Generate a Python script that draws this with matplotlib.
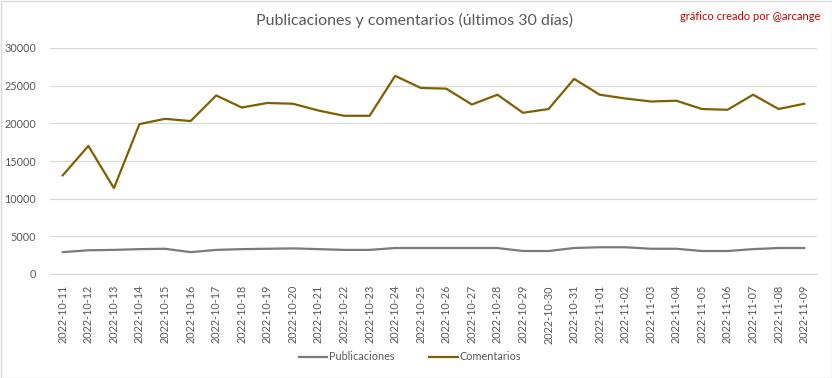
import matplotlib
matplotlib.use("Agg")
import matplotlib.pyplot as plt
from matplotlib.patches import Rectangle

dates = ["2022-10-11", "2022-10-12", "2022-10-13", "2022-10-14", "2022-10-15", "2022-10-16",
         "2022-10-17", "2022-10-18", "2022-10-19", "2022-10-20", "2022-10-21", "2022-10-22",
         "2022-10-23", "2022-10-24", "2022-10-25", "2022-10-26", "2022-10-27", "2022-10-28",
         "2022-10-29", "2022-10-30", "2022-10-31", "2022-11-01", "2022-11-02", "2022-11-03",
         "2022-11-04", "2022-11-05", "2022-11-06", "2022-11-07", "2022-11-08", "2022-11-09"]

publicaciones = [2900, 3150, 3200, 3300, 3350, 2900, 3200, 3300, 3350, 3400, 3300, 3200,
                 3200, 3450, 3450, 3450, 3450, 3450, 3050, 3050, 3450, 3550, 3550, 3350,
                 3350, 3050, 3050, 3300, 3450, 3450]

comentarios = [13100, 17000, 11400, 19900, 20600, 20300, 23700, 22100, 22700, 22600, 21700, 21000,
               21000, 26300, 24700, 24600, 22500, 23800, 21400, 21900, 25900, 23800, 23300, 22900,
               23000, 21900, 21800, 23800, 21900, 22600]

yticks = [0, 5000, 10000, 15000, 20000, 25000, 30000]

plt.rcParams['font.family'] = ['Lato', 'DejaVu Sans']
txt = '#595959'

fig = plt.figure(figsize=(8.32, 3.78), dpi=100)
ax = fig.add_axes([50/832, 1-274/378, (817-50)/832, (274-48)/378])

x = list(range(len(dates)))
ax.plot(x, publicaciones, color='#7a7a7a', lw=1.6, label='Publicaciones', solid_joinstyle='round')
ax.plot(x, comentarios, color='#7f6000', lw=1.6, label='Comentarios', solid_joinstyle='round')

ax.set_xlim(-0.5, len(dates) - 0.5)
ax.set_ylim(0, 30000)
ax.set_yticks(yticks)
ax.set_yticklabels([str(v) for v in yticks], color=txt, fontsize=7.8)
ax.set_xticks(x)
ax.set_xticklabels(dates, rotation=90, color=txt, fontsize=7.8)
ax.grid(axis='y', color='#d9d9d9', lw=0.9)
ax.set_axisbelow(True)
for s in ['top', 'right', 'left']:
    ax.spines[s].set_visible(False)
ax.spines['bottom'].set_color('#d9d9d9')
ax.tick_params(axis='both', length=0, pad=8)
ax.tick_params(axis='y', pad=10)

fig.text(415/832, 1-20/378, 'Publicaciones y comentarios (últimos 30 días)', ha='center', va='center',
         fontsize=11.5, color=txt)
fig.text(820/832, 1-16/378, 'gráfico creado por @arcange', ha='right', va='center',
         fontsize=8, color='#c00000')

leg = fig.legend(loc='center', bbox_to_anchor=(410/832, 1-357/378), ncol=2, frameon=False,
                 fontsize=7.8, labelcolor=txt, handlelength=2.6, handletextpad=0.2, columnspacing=3.2)

fig.patches.append(Rectangle((0.5/832, 0.5/378), 1-1/832, 1-1/378, transform=fig.transFigure,
                             fill=False, edgecolor='#d9d9d9', lw=1))

fig.savefig('out.png', dpi=100)
